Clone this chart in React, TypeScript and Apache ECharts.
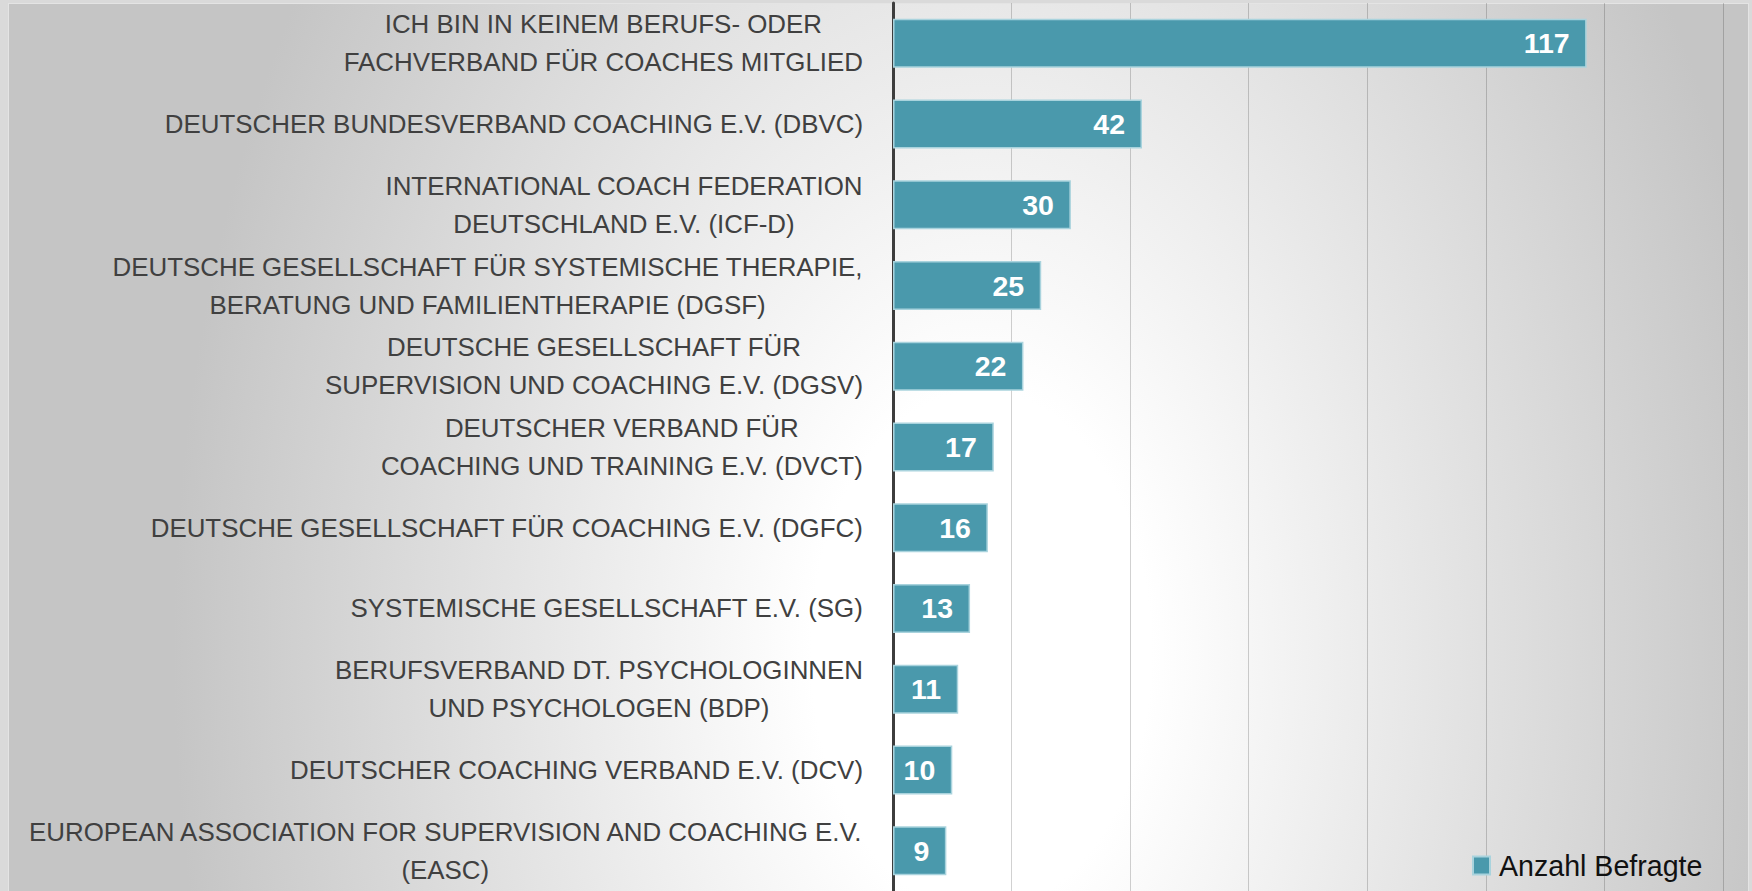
import React, { useEffect, useRef } from "react";
import * as echarts from "echarts";

const categories: string[] = [
  "ICH BIN IN KEINEM BERUFS- ODER\nFACHVERBAND FÜR COACHES MITGLIED",
  "DEUTSCHER BUNDESVERBAND COACHING E.V. (DBVC)",
  "INTERNATIONAL COACH FEDERATION\nDEUTSCHLAND E.V. (ICF-D)",
  "DEUTSCHE GESELLSCHAFT FÜR SYSTEMISCHE THERAPIE,\nBERATUNG UND FAMILIENTHERAPIE (DGSF)",
  "DEUTSCHE GESELLSCHAFT FÜR\nSUPERVISION UND COACHING E.V. (DGSV)",
  "DEUTSCHER VERBAND FÜR\nCOACHING UND TRAINING E.V. (DVCT)",
  "DEUTSCHE GESELLSCHAFT FÜR COACHING E.V. (DGFC)",
  "SYSTEMISCHE GESELLSCHAFT E.V. (SG)",
  "BERUFSVERBAND DT. PSYCHOLOGINNEN\nUND PSYCHOLOGEN (BDP)",
  "DEUTSCHER COACHING VERBAND E.V. (DCV)",
  "EUROPEAN ASSOCIATION FOR SUPERVISION AND COACHING E.V.\n(EASC)",
];

const values: number[] = [117, 42, 30, 25, 22, 17, 16, 13, 11, 10, 9];

const seriesName = "Anzahl Befragte";

const xMin = 0;
const xMax = 140;
const xInterval = 20;

const FONT = "'Liberation Sans', Arial, sans-serif";

export default function App() {
  const ref = useRef<HTMLDivElement>(null);

  useEffect(() => {
    document.body.style.margin = "0";
    const chart = echarts.init(ref.current!, null, { renderer: "svg" });
    chart.setOption({
      animation: false,
      backgroundColor: "transparent",
      grid: {
        left: 893,
        right: 29,
        top: 3,
        height: 892,
        containLabel: false,
      },
      xAxis: {
        type: "value",
        min: xMin,
        max: xMax,
        interval: xInterval,
        axisLabel: { show: false },
        axisLine: { show: false },
        axisTick: { show: false },
        splitLine: {
          show: true,
          lineStyle: { color: "rgba(0,0,0,0.18)", width: 1 },
        },
      },
      yAxis: {
        type: "category",
        inverse: true,
        data: categories,
        axisTick: { show: false },
        axisLine: {
          show: true,
          lineStyle: { color: "#3d3d3d", width: 3 },
        },
        axisLabel: {
          margin: 30,
          align: "right",
          fontSize: 25.9,
          lineHeight: 38,
          color: "#404040",
          fontFamily: FONT,
          formatter: (v: string) =>
            v
              .split("\n")
              .map((l) => `{c|${l}}`)
              .join("\n"),
          rich: {
            c: {
              align: "center",
              fontSize: 25.9,
              lineHeight: 38,
              color: "#404040",
              fontFamily: FONT,
            },
          },
        },
      },
      legend: {
        show: true,
        data: [seriesName],
        left: 1467,
        top: 846,
        icon: "rect",
        itemWidth: 17,
        itemHeight: 18,
        textStyle: {
          fontSize: 28.6,
          color: "#111111",
          fontFamily: FONT,
          padding: [0, 0, 0, 4],
        },
      },
      series: [
        {
          type: "bar",
          name: seriesName,
          data: values,
          barWidth: 49,
          itemStyle: {
            color: "#4a99ac",
            borderColor: "#a9d3dd",
            borderWidth: 1.5,
          },
          label: {
            show: true,
            position: "insideRight",
            distance: 17,
            color: "#ffffff",
            fontWeight: "bold",
            fontSize: 28.5,
            fontFamily: FONT,
          },
        },
      ],
    });
    return () => chart.dispose();
  }, []);

  return (
    <div
      style={{
        position: "relative",
        width: 1752,
        height: 891,
        overflow: "hidden",
        background: "#dadada",
      }}
    >
      <div
        style={{
          position: "absolute",
          left: 8,
          top: 3,
          width: 1741,
          height: 900,
          boxSizing: "border-box",
          borderLeft: "1px solid #e4e4e4",
          borderTop: "1px solid #e4e4e4",
          borderRight: "1px solid #e4e4e4",
          background:
            "radial-gradient(850px 1300px at 972px 647px, #ffffff 20%, #c5c5c5 95%)",
        }}
      />
      <div
        ref={ref}
        style={{ position: "absolute", left: 0, top: 0, width: 1752, height: 891 }}
      />
    </div>
  );
}
